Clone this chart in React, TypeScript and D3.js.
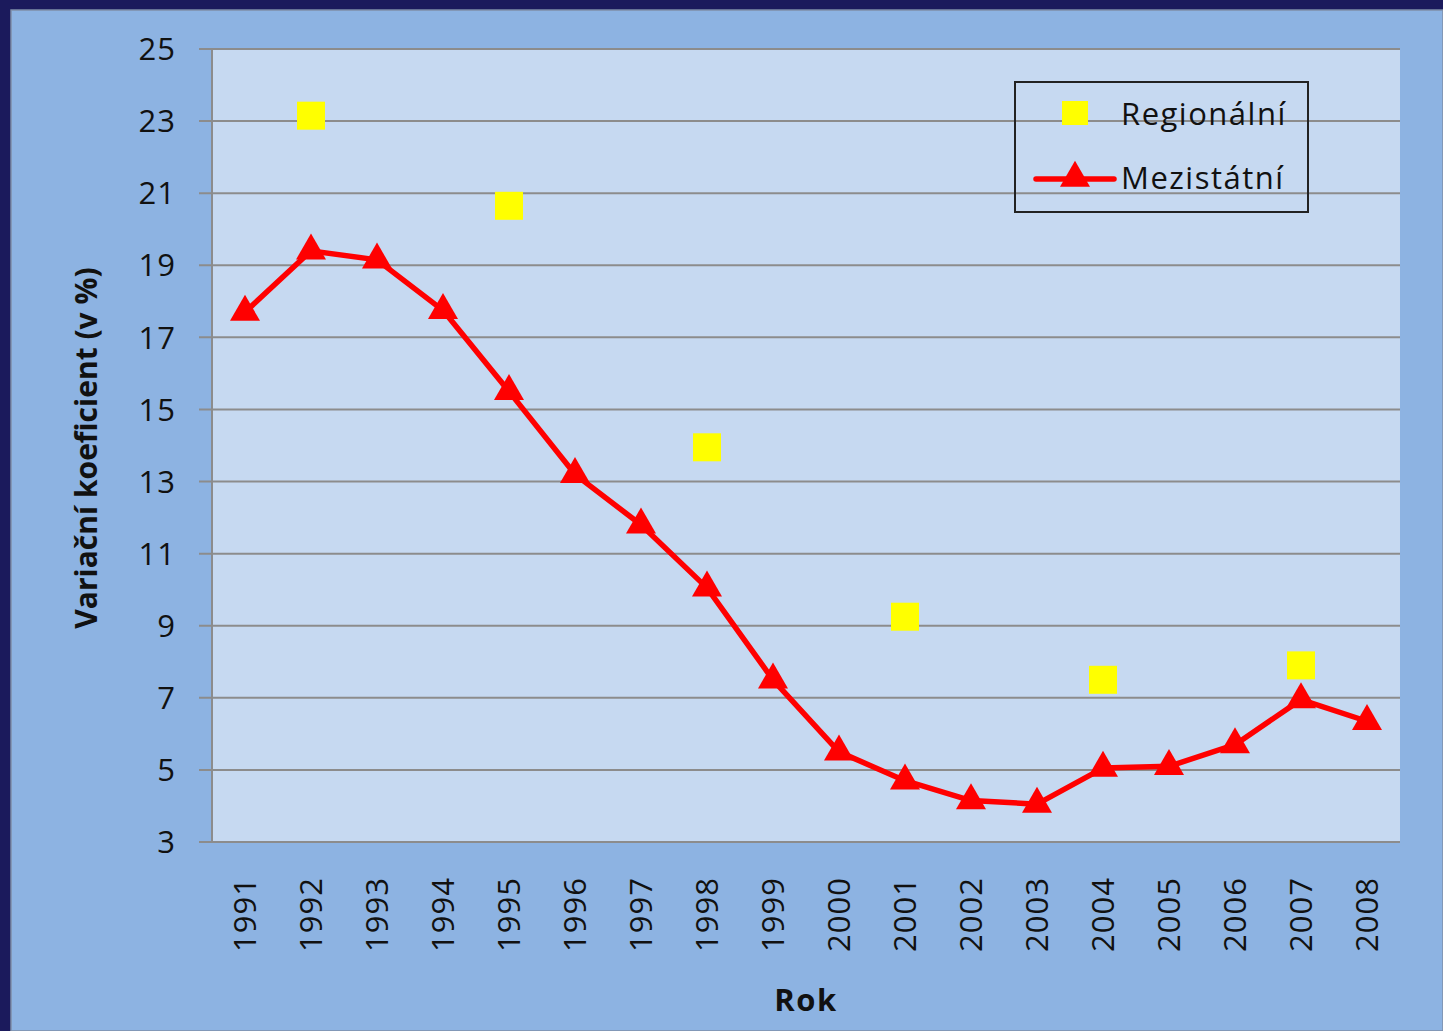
import React from 'react';
import * as d3 from 'd3';

const years = ['1991', '1992', '1993', '1994', '1995', '1996', '1997', '1998', '1999',
  '2000', '2001', '2002', '2003', '2004', '2005', '2006', '2007', '2008'];

// Mezistátní (red line with triangles)
const mezistatni = [17.7, 19.4, 19.15, 17.75, 15.5, 13.2, 11.8, 10.05, 7.5,
  5.5, 4.7, 4.15, 4.05, 5.05, 5.1, 5.7, 6.95, 6.35];

// Regionální (yellow squares), only some years
const regionalYears = ['1992', '1995', '1998', '2001', '2004', '2007'];
const regionalni = [23.15, 20.65, 13.95, 9.25, 7.5, 7.9];

const yTicks = [3, 5, 7, 9, 11, 13, 15, 17, 19, 21, 23, 25];

const W = 1443;
const H = 1031;
const plot = { left: 212, right: 1400, top: 49, bottom: 842 };
const font = '"Open Sans", "Noto Sans", sans-serif';

const App = () => {
  const x = d3.scaleBand().domain(years).range([plot.left, plot.right]);
  const y = d3.scaleLinear().domain([3, 25]).range([plot.bottom, plot.top]);
  const cx = (d: string) => (x(d) as number) + x.bandwidth() / 2;

  const line = d3.line<number>()
    .x((_, i) => cx(years[i]))
    .y(d => y(d));

  const tri = d3.symbol().type(d3.symbolTriangle).size(390)();

  return (
    <svg width={W} height={H} style={{ position: 'absolute', left: 0, top: 0, display: 'block' }}>
      <rect x={0} y={0} width={W} height={H} fill="#1b1a5c" />
      <rect x={11} y={10} width={W - 11} height={H - 10} fill="#8db3e2" stroke="#7f8fa8" strokeWidth={1.5} />
      <rect x={plot.left} y={plot.top} width={plot.right - plot.left} height={plot.bottom - plot.top} fill="#c6d9f1" />

      {/* gridlines + ticks */}
      {yTicks.map(t => (
        <g key={t}>
          <line x1={199} x2={plot.right} y1={y(t)} y2={y(t)} stroke="#8c8c8c" strokeWidth={2} />
          <text x={176} y={y(t)} dy="0.36em" textAnchor="end" fontFamily={font} fontSize={31}
            letterSpacing={1} fill="#111">{t}</text>
        </g>
      ))}
      <line x1={plot.left} x2={plot.left} y1={plot.top} y2={plot.bottom} stroke="#8c8c8c" strokeWidth={2} />

      {years.map(yr => (
        <text key={yr} transform={`translate(${cx(yr)},877) rotate(-90)`} textAnchor="end" dy="0.36em"
          fontFamily={font} fontSize={31} letterSpacing={1} fill="#111">{yr}</text>
      ))}

      <text transform={`translate(86,448) rotate(-90)`} textAnchor="middle" dy="0.36em"
        fontFamily={font} fontSize={30} fontWeight="bold" fill="#111">Variační koeficient (v %)</text>
      <text x={806} y={1000} textAnchor="middle" dy="0.36em" fontFamily={font} fontSize={31}
        letterSpacing={1.5} fontWeight="bold" fill="#111">Rok</text>

      {/* series */}
      <path d={line(mezistatni) || ''} fill="none" stroke="#ff0000" strokeWidth={5.5} strokeLinejoin="round" />
      {mezistatni.map((v, i) => (
        <path key={years[i]} d={tri || ''} transform={`translate(${cx(years[i])},${y(v)})`} fill="#ff0000" />
      ))}
      {regionalni.map((v, i) => (
        <rect key={regionalYears[i]} x={cx(regionalYears[i]) - 14} y={y(v) - 14} width={28} height={28} fill="#ffff00" />
      ))}

      {/* legend */}
      <rect x={1015} y={82} width={293} height={130} fill="none" stroke="#222" strokeWidth={2} />
      <rect x={1062} y={101} width={26} height={24} fill="#ffff00" />
      <text x={1121} y={114} dy="0.36em" fontFamily={font} fontSize={31} letterSpacing={1.5} fill="#111">Regionální</text>
      <line x1={1036} x2={1114} y1={179} y2={179} stroke="#ff0000" strokeWidth={5.5} strokeLinecap="round" />
      <path d={tri || ''} transform="translate(1075,178)" fill="#ff0000" />
      <text x={1121} y={178} dy="0.36em" fontFamily={font} fontSize={31} letterSpacing={1.5} fill="#111">Mezistátní</text>
    </svg>
  );
};

export default App;
